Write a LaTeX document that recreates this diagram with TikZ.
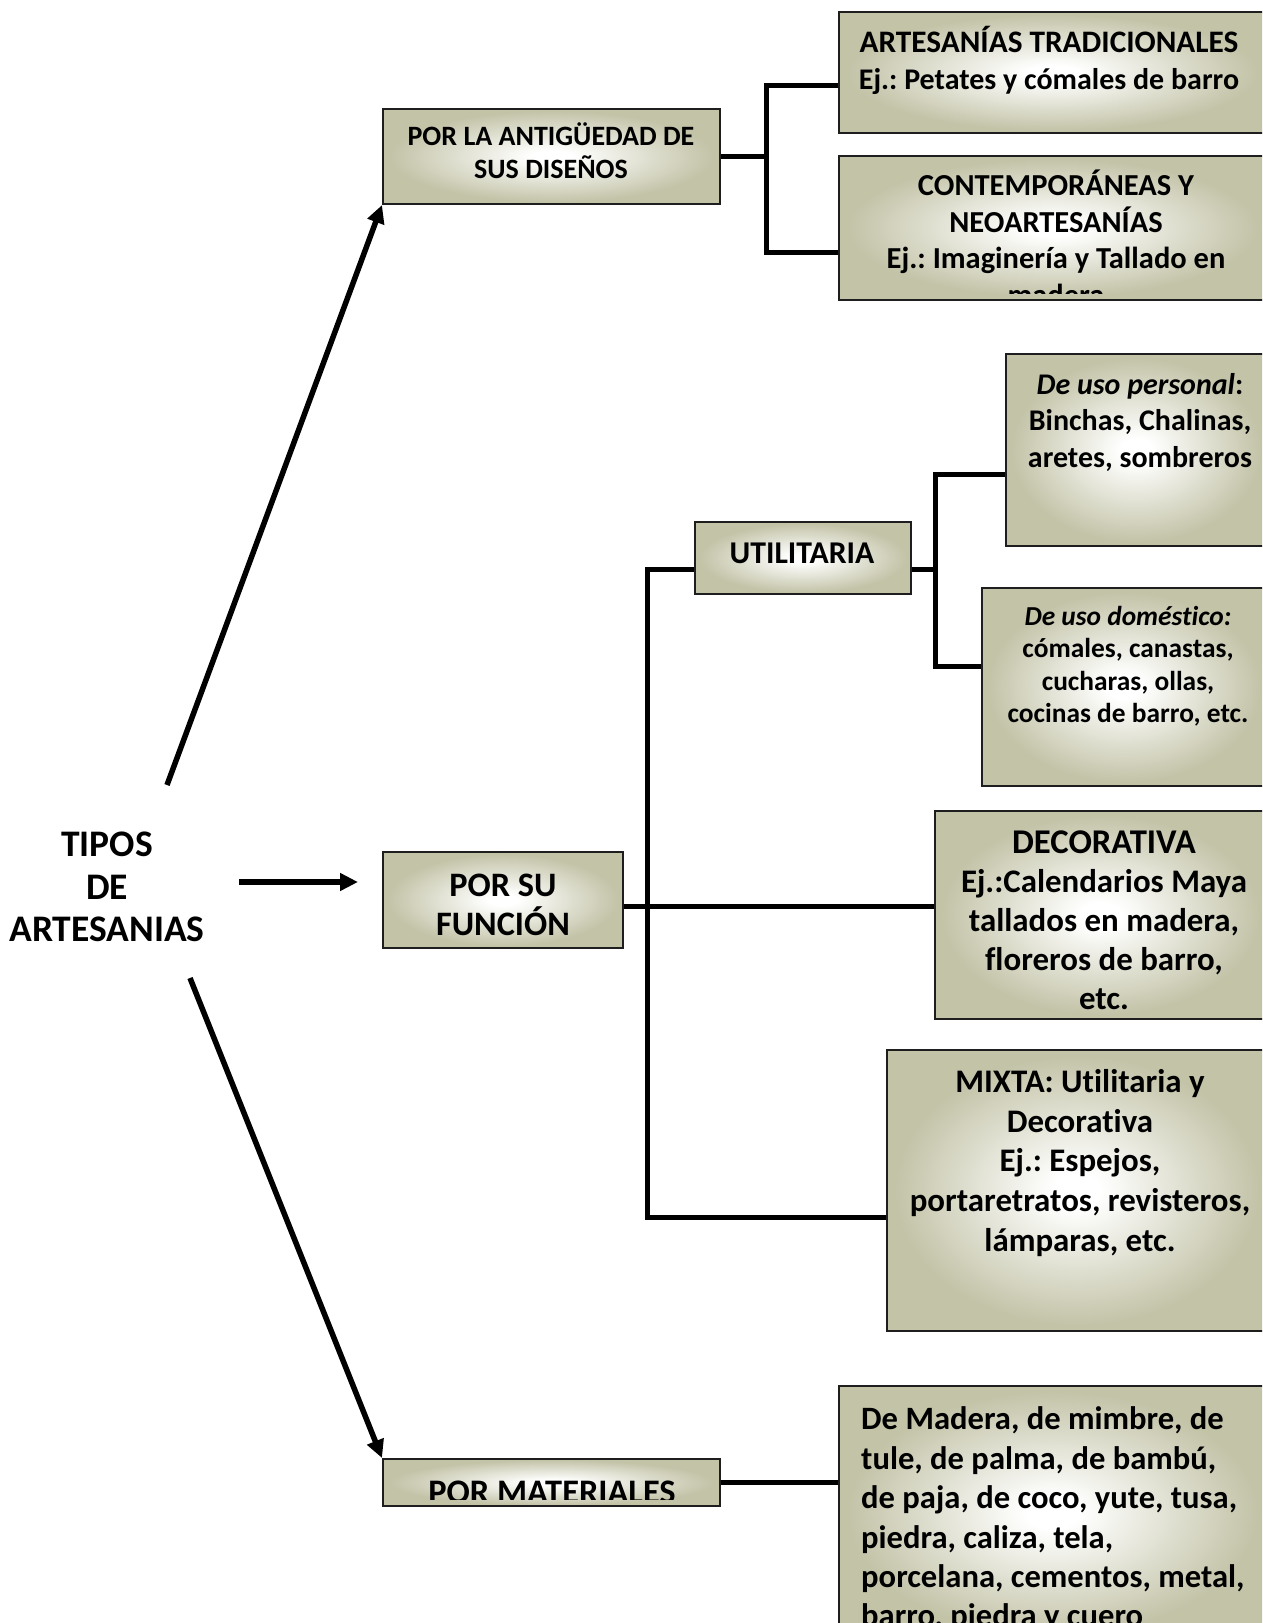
\documentclass[tikz,border=0pt]{standalone}
\usepackage{fontspec}
\setmainfont{Carlito}[Ligatures={TeX,NoCommon}]
\usetikzlibrary{arrows.meta}
\definecolor{boxolive}{RGB}{195,195,168}
\definecolor{boxedge}{RGB}{30,30,30}
% white glow in the middle of every box, olive towards the rim
\pgfdeclareradialshading{boxglow}{\pgfpoint{0bp}{0bp}}{color(0bp)=(white); color(3bp)=(white); color(24bp)=(boxolive); color(50bp)=(boxolive)}
\newcommand\fsz[2]{\fontsize{#1}{#2}\selectfont}
\frenchspacing

\begin{document}
\begin{tikzpicture}[x=1pt,y=-1pt,
  cbox/.style={draw=boxedge, line width=2pt, shading=boxglow, rectangle, inner sep=0pt},
  lbl/.style={font=\bfseries, align=center, inner sep=0pt},
  conn/.style={line width=5pt},
  arr/.style={line width=5.5pt, -{Triangle[length=18pt,width=17pt]}}]

\clip (0,0) rectangle (1262,1623);
\fill[white] (0,0) rectangle (1262,1623);

% ---- boxes
\node[cbox, minimum width=337pt, minimum height=95pt]  (A)   at (551.5,156.5) {};
\node[cbox, minimum width=427pt, minimum height=121pt] (A1)  at (1052.5,72.5) {};
\node[cbox, minimum width=427pt, minimum height=144pt] (A2)  at (1052.5,228) {};
\node[cbox, minimum width=216pt, minimum height=72pt]  (U)   at (803,558) {};
\node[cbox, minimum width=260pt, minimum height=192pt] (U1)  at (1136,450) {};
\node[cbox, minimum width=284pt, minimum height=198pt] (U2)  at (1124,687) {};
\node[cbox, minimum width=240pt, minimum height=96pt]  (F)   at (503,900) {};
\node[cbox, minimum width=331pt, minimum height=208pt] (D)   at (1100.5,915) {};
\node[cbox, minimum width=379pt, minimum height=281pt] (M)   at (1076.5,1190.5) {};
\node[cbox, minimum width=337pt, minimum height=47pt]  (PM)  at (551.5,1482.5) {};
\node[cbox, minimum width=427pt, minimum height=254pt] (MAT) at (1052.5,1513) {};

% ---- texts
\node[lbl, font=\bfseries\fsz{37.5}{42.5}] (T) at (107,887) {TIPOS\\DE\\ARTESANIAS};
\node[lbl, font=\bfseries\fsz{28}{33}] (At) at (551,150.5) {POR LA ANTIGÜEDAD DE\\SUS DISEÑOS};
\node[lbl, font=\bfseries\fsz{30}{37}] (A1t) at (1049,60.5) {{\fsz{31.3}{37}ARTESANÍAS TRADICIONALES}\\Ej.: Petates y cómales de barro};
\begin{scope}
  \clip ([yshift=8pt]A2.south west) rectangle (A2.north east);
  \node[lbl, font=\bfseries\fsz{30.5}{36.5}] (A2t) at (1056,238) {CONTEMPORÁNEAS Y\\NEOARTESANÍAS\\Ej.: Imaginería y Tallado en\\madera};
\end{scope}
\node[lbl, font=\bfseries\fsz{31.7}{36}] (Ut) at (802,553) {UTILITARIA};
\node[lbl, font=\bfseries\fsz{30}{36.5}] (U1t) at (1140,422) {\textit{De uso personal}:\\Binchas, Chalinas,\\aretes, sombreros};
\node[lbl, font=\bfseries\fsz{27.4}{32.5}] (U2t) at (1128,666) {\textit{De uso doméstico:}\\cómales, canastas,\\cucharas, ollas,\\cocinas de barro, etc.};
\node[lbl, font=\bfseries\fsz{34.3}{38.5}] (Ft) at (503,905) {POR SU\\FUNCIÓN};
\node[lbl, font=\bfseries\fsz{32.9}{39}] (Dt) at (1104,920) {{\fsz{34.7}{39}DECORATIVA}\\Ej.:Calendarios Maya\\tallados en madera,\\floreros de barro,\\etc.};
\node[lbl, font=\bfseries\fsz{32.9}{39.7}] (Mt) at (1080,1163) {MIXTA: Utilitaria y\\Decorativa\\Ej.: Espejos,\\portaretratos, revisteros,\\lámparas, etc.};
\begin{scope}
  \clip ([yshift=8pt]PM.south west) rectangle (PM.north east);
  \node[lbl, font=\bfseries\fsz{34.4}{38}] (PMt) at (552,1492) {POR MATERIALES};
\end{scope}
\begin{scope}
  \clip ([yshift=5pt]MAT.south west) rectangle (MAT.north east);
  \node[lbl, align=left, anchor=west, font=\bfseries\fsz{32.6}{39.4}] (MATt) at (861,1519.5) {De Madera, de mimbre, de\\tule, de palma, de bambú,\\de paja, de coco, yute, tusa,\\piedra, caliza, tela,\\porcelana, cementos, metal,\\barro, piedra y cuero};
\end{scope}

% ---- branch lines
\coordinate (jA) at (766,156.5);
\draw[conn] (A.east) -- (jA);
\draw[conn] ([yshift=-12.5pt]A1.west) -| (jA) |- ([yshift=-24pt]A2.west);

\coordinate (jU) at (935,569);
\draw[conn] ([yshift=-11pt]U.east) -- (jU);
\draw[conn] ([yshift=-24pt]U1.west) -| (jU) |- ([yshift=21pt]U2.west);

\coordinate (jF) at (647,906);
\draw[conn] ([yshift=-6pt]F.east) -- ([yshift=9pt]D.west);
\draw[conn] ([yshift=-11pt]U.west) -| (jF) |- ([yshift=-26.5pt]M.west);

\draw[conn] (PM.east) -- (PM.east -| MAT.west);

% ---- arrows from the title
\coordinate (s1) at (167,785);
\coordinate (s2) at (239,882);
\coordinate (e2) at (358,882);
\coordinate (s3) at (190,978);
\draw[arr] (s1) -- (A.south west);
\draw[arr] (s2) -- (e2);
\draw[arr] (s3) -- (PM.north west);
\end{tikzpicture}
\end{document}
